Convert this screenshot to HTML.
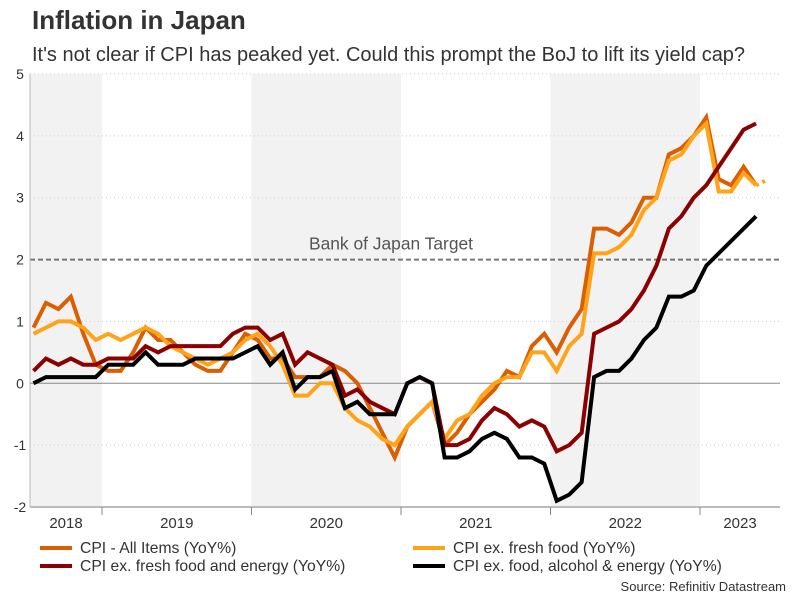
<!DOCTYPE html>
<html><head><meta charset="utf-8"><style>
body{margin:0;background:#fff;font-family:"Liberation Sans",sans-serif;}
svg text{font-family:"Liberation Sans",sans-serif;}
</style></head><body>
<svg width="796" height="597" viewBox="0 0 796 597" xmlns="http://www.w3.org/2000/svg" id="svg">
<text x="32" y="29" font-size="26" font-weight="bold" fill="#333">Inflation in Japan</text>
<text x="32" y="61" font-size="20" fill="#333">It's not clear if CPI has peaked yet. Could this prompt the BoJ to lift its yield cap?</text>
<g id="bands"></g><g id="grid"></g><g id="series"></g><g id="axes"></g>
<g font-size="15.7" fill="#333">
<line x1="40" y1="548" x2="72" y2="548" stroke="#d95f02" stroke-width="4"/><text x="80" y="553">CPI - All Items (YoY%)</text>
<line x1="413" y1="548" x2="445" y2="548" stroke="#ffa31a" stroke-width="4"/><text x="453" y="553">CPI ex. fresh food (YoY%)</text>
<line x1="40" y1="566" x2="72" y2="566" stroke="#8b0000" stroke-width="4"/><text x="80" y="571">CPI ex. fresh food and energy (YoY%)</text>
<line x1="413" y1="566" x2="445" y2="566" stroke="#000" stroke-width="4"/><text x="453" y="571">CPI ex. food, alcohol &amp; energy (YoY%)</text>
</g>
<text x="786" y="591" font-size="13" fill="#333" text-anchor="end">Source: Refinitiv Datastream</text>
</svg>
<script>
const years=["2018","2019","2020","2021","2022","2023"];
const yTicks=[-2,-1,0,1,2,3,4,5];
const allItems=[0.9,1.3,1.2,1.4,0.8,0.3, 0.2,0.2,0.5,0.9,0.7,0.7,0.5,0.3,0.2,0.2,0.5,0.8, 0.7,0.4,0.4,0.1,0.1,0.1,0.3,0.2,0.0,-0.4,-0.8,-1.2, -0.7,-0.5,-0.3,-1.0,-0.8,-0.5,-0.3,-0.1,0.2,0.1,0.6,0.8, 0.5,0.9,1.2,2.5,2.5,2.4,2.6,3.0,3.0,3.7,3.8,4.0, 4.3,3.3,3.2,3.5,3.2];
const exFresh=[0.8,0.9,1.0,1.0,0.9,0.7, 0.8,0.7,0.8,0.9,0.8,0.6,0.5,0.4,0.3,0.4,0.5,0.7, 0.8,0.6,0.3,-0.2,-0.2,0,0,-0.4,-0.6,-0.7,-0.9,-1.0, -0.7,-0.5,-0.3,-0.9,-0.6,-0.5,-0.2,0,0.1,0.1,0.5,0.5, 0.2,0.6,0.8,2.1,2.1,2.2,2.4,2.8,3.0,3.6,3.7,4.0, 4.2,3.1,3.1,3.4,3.2,3.3];
const exFreshEnergy=[0.2,0.4,0.3,0.4,0.3,0.3, 0.4,0.4,0.4,0.6,0.5,0.6,0.6,0.6,0.6,0.6,0.8,0.9, 0.9,0.7,0.8,0.3,0.5,0.4,0.3,-0.2,-0.1,-0.3,-0.4,-0.5, 0,0.1,0,-1.0,-1.0,-0.9,-0.6,-0.4,-0.5,-0.7,-0.6,-0.7, -1.1,-1.0,-0.8,0.8,0.9,1.0,1.2,1.5,1.9,2.5,2.7,3.0, 3.2,3.5,3.8,4.1,4.2];
const exFoodAlcEnergy=[0,0.1,0.1,0.1,0.1,0.1, 0.3,0.3,0.3,0.5,0.3,0.3,0.3,0.4,0.4,0.4,0.4,0.5, 0.6,0.3,0.5,-0.1,0.1,0.1,0.2,-0.4,-0.3,-0.5,-0.5,-0.5, 0,0.1,0,-1.2,-1.2,-1.1,-0.9,-0.8,-0.9,-1.2,-1.2,-1.3, -1.9,-1.8,-1.6,0.1,0.2,0.2,0.4,0.7,0.9,1.4,1.4,1.5, 1.9,2.1,2.3,2.5,2.7];
const target=2;
const NS="http://www.w3.org/2000/svg";
const L=30,R=780,T=74,B=507,MW=149.5/12,J19=102;
const x=i=>J19+(i-5.5)*MW;
const yearX=k=>J19+(k-1)*149.5;
const y=v=>B-(v-(-2))*(B-T)/7;
function mk(tag,attrs,parent){const e=document.createElementNS(NS,tag);for(const k in attrs)e.setAttribute(k,attrs[k]);parent.appendChild(e);return e;}
const bands=document.getElementById('bands'),grid=document.getElementById('grid'),series=document.getElementById('series'),axes=document.getElementById('axes');
[0,2,4].forEach(k=>{const x0=Math.max(L,yearX(k)),x1=Math.min(R,yearX(k+1));
 const r=mk('rect',{x:x0,y:T,width:x1-x0,height:B-T,fill:'#f2f2f2'},bands);
 
 });
yTicks.forEach(v=>{
 if(v!==-2&&v!==0&&v!==target){const g=mk('line',{x1:L,x2:R,y1:y(v),y2:y(v),stroke:'#ccc','stroke-dasharray':'1,3'},grid);
 
 }
 const t=mk('text',{x:20,y:y(v)+5,'font-size':14,fill:'#333','text-anchor':'middle'},axes);t.textContent=v;
 
 
});
const z=mk('line',{x1:L,x2:R,y1:y(0),y2:y(0),stroke:'#888','stroke-width':1},grid);


const tl=mk('line',{x1:L,x2:R,y1:y(target),y2:y(target),stroke:'#777','stroke-width':2,'stroke-dasharray':'5,3'},grid);


const tt=mk('text',{x:391,y:y(target)-10,'font-size':17.4,fill:'#555','text-anchor':'middle'},grid);tt.textContent='Bank of Japan Target';


function line(arr,color,name,n){const pts=arr.slice(0,n).map((v,i)=>x(i)+','+y(v)).join(' ');
 const p=mk('polyline',{points:pts,fill:'none',stroke:color,'stroke-width':4,'stroke-linejoin':'miter'},series);
 
 }
line(allItems,'#d95f02','series-cpi-all-items',allItems.length);
line(exFresh,'#ffa31a','series-cpi-ex-fresh-food',exFresh.length-1);
const n=exFresh.length;
const d=mk('line',{x1:x(n-2),y1:y(exFresh[n-2]),x2:x(n-1),y2:y(exFresh[n-1]),stroke:'#ffa31a','stroke-width':4,'stroke-dasharray':'3,4'},series);


line(exFreshEnergy,'#8b0000','series-cpi-ex-fresh-food-energy',exFreshEnergy.length);
line(exFoodAlcEnergy,'#000','series-cpi-ex-food-alcohol-energy',exFoodAlcEnergy.length);
const ax=mk('line',{x1:L,x2:R,y1:B,y2:B,stroke:'#bbb','stroke-width':2},axes);


const ay=mk('line',{x1:L,x2:L,y1:T,y2:B,stroke:'#bbb','stroke-width':1},axes);


years.forEach((yr,k)=>{const x0=Math.max(L,yearX(k)),x1=Math.min(R,yearX(k+1));
 if(k>0){const tk=mk('line',{x1:yearX(k),x2:yearX(k),y1:B,y2:B+8,stroke:'#888'},axes);
 
 }
 const t=mk('text',{x:(x0+x1)/2,y:528,'font-size':15,fill:'#333','text-anchor':'middle'},axes);t.textContent=yr;
 
 });
</script>
</body></html>
